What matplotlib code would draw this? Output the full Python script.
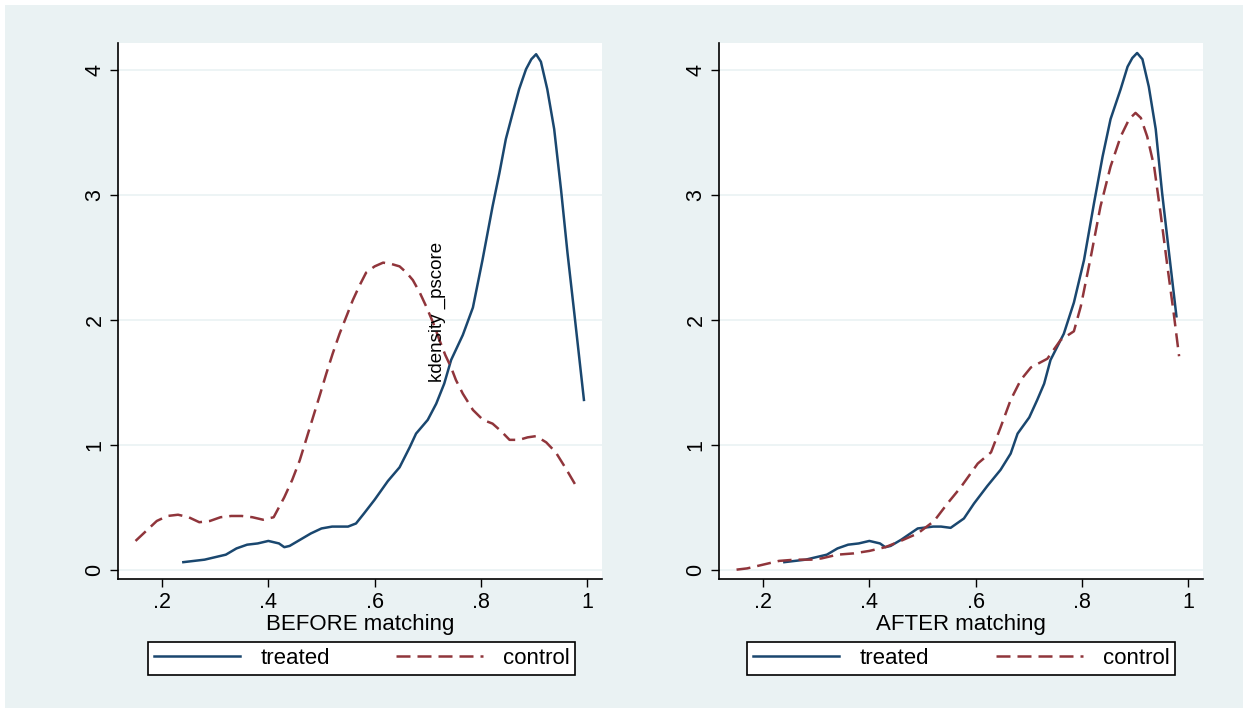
import matplotlib.pyplot as plt
from matplotlib.patches import Rectangle
from matplotlib.lines import Line2D

plt.rcParams["font.family"] = ["Liberation Sans", "DejaVu Sans"]

# ── Data ──────────────────────────────────────────────────────────────────────
before_treated_x = [0.24, 0.26, 0.28, 0.30, 0.32, 0.34, 0.36, 0.38, 0.40, 0.42, 0.43,
                    0.44, 0.46, 0.48, 0.50, 0.52, 0.55, 0.565, 0.58, 0.60, 0.625,
                    0.647, 0.666, 0.678, 0.70, 0.716, 0.731, 0.744, 0.766, 0.785,
                    0.803, 0.822, 0.835, 0.847, 0.86, 0.872, 0.885, 0.895, 0.904,
                    0.913, 0.925, 0.938, 0.951, 0.963, 0.976, 0.994]
before_treated_y = [0.06, 0.07, 0.08, 0.10, 0.12, 0.17, 0.20, 0.21, 0.23, 0.21, 0.18,
                    0.19, 0.24, 0.29, 0.33, 0.345, 0.345, 0.37, 0.45, 0.56, 0.71,
                    0.82, 0.98, 1.09, 1.20, 1.33, 1.49, 1.68, 1.88, 2.10,
                    2.48, 2.91, 3.18, 3.45, 3.66, 3.85, 4.01, 4.09, 4.13,
                    4.07, 3.85, 3.53, 3.04, 2.54, 2.05, 1.36]

before_control_x = [0.15, 0.17, 0.19, 0.21, 0.23, 0.25, 0.27, 0.29, 0.31, 0.33, 0.35,
                    0.37, 0.39, 0.41, 0.43, 0.445, 0.459, 0.471, 0.484, 0.497, 0.509,
                    0.521, 0.534, 0.547, 0.559, 0.572, 0.584, 0.60, 0.616, 0.631,
                    0.647, 0.66, 0.672, 0.685, 0.697, 0.71, 0.722, 0.733, 0.744,
                    0.753, 0.766, 0.785, 0.804, 0.822, 0.838, 0.854, 0.872, 0.888,
                    0.904, 0.923, 0.941, 0.96, 0.982]
before_control_y = [0.23, 0.31, 0.39, 0.43, 0.44, 0.42, 0.38, 0.39, 0.42, 0.43, 0.43,
                    0.42, 0.40, 0.42, 0.58, 0.72, 0.875, 1.04, 1.22, 1.40, 1.57,
                    1.73, 1.89, 2.03, 2.16, 2.28, 2.38, 2.43, 2.46, 2.45,
                    2.43, 2.38, 2.32, 2.22, 2.11, 1.98, 1.84, 1.72, 1.62,
                    1.52, 1.41, 1.28, 1.20, 1.17, 1.11, 1.04, 1.04, 1.06,
                    1.07, 1.02, 0.94, 0.81, 0.65]

after_treated_x = [0.24, 0.26, 0.28, 0.30, 0.32, 0.34, 0.36, 0.38, 0.40, 0.42, 0.43,
                   0.44, 0.46, 0.491, 0.52, 0.535, 0.553, 0.578, 0.597, 0.622, 0.647,
                   0.666, 0.679, 0.701, 0.716, 0.729, 0.741, 0.766, 0.785, 0.804,
                   0.823, 0.839, 0.854, 0.873, 0.886, 0.895, 0.904, 0.914, 0.926,
                   0.939, 0.951, 0.964, 0.978]
after_treated_y = [0.06, 0.07, 0.08, 0.10, 0.12, 0.17, 0.20, 0.21, 0.23, 0.21, 0.18,
                   0.19, 0.24, 0.33, 0.345, 0.345, 0.335, 0.41, 0.53, 0.67, 0.80,
                   0.93, 1.09, 1.22, 1.36, 1.49, 1.68, 1.89, 2.14, 2.48,
                   2.94, 3.31, 3.61, 3.85, 4.03, 4.10, 4.14, 4.09, 3.87,
                   3.53, 3.02, 2.54, 2.03]

after_control_x = [0.15, 0.17, 0.20, 0.23, 0.26, 0.29, 0.31, 0.34, 0.37, 0.40, 0.43,
                   0.459, 0.491, 0.522, 0.547, 0.572, 0.604, 0.629, 0.647, 0.666,
                   0.685, 0.704, 0.735, 0.76, 0.785, 0.798, 0.817, 0.835, 0.854,
                   0.873, 0.889, 0.901, 0.911, 0.923, 0.936, 0.948, 0.961, 0.973,
                   0.983]
after_control_y = [0.00, 0.01, 0.04, 0.07, 0.08, 0.08, 0.09, 0.12, 0.13, 0.15, 0.18,
                   0.23, 0.29, 0.39, 0.53, 0.66, 0.85, 0.94, 1.14, 1.36,
                   1.52, 1.62, 1.69, 1.84, 1.91, 2.11, 2.51, 2.91, 3.23,
                   3.47, 3.61, 3.66, 3.62, 3.47, 3.23, 2.86, 2.43, 2.05,
                   1.71]

x_ticks = [0.2, 0.4, 0.6, 0.8, 1.0]
x_labels = [".2", ".4", ".6", ".8", "1"]
y_ticks = [0, 1, 2, 3, 4]

BLUE = "#1a476f"
RED = "#90353b"
BG = "#eaf2f3"
LW = 1.8
DASH = (5.6, 2.8)

W, H = 1248, 713
fig = plt.figure(figsize=(W / 100, H / 100), dpi=100)
fig.patch.set_facecolor("white")
fig.patches.append(Rectangle((5 / W, 5 / H), 1 - 10 / W, 1 - 10 / H,
                             transform=fig.transFigure, facecolor=BG,
                             edgecolor="none", zorder=-10))


def panel(left, treated, control, xlabel, legend_box):
    ax = fig.add_axes([left / W, 1 - 579 / H, 484 / W, 536 / H])
    ax.set_facecolor("white")
    ax.plot(*treated, color=BLUE, lw=LW, solid_joinstyle="round")
    ax.plot(*control, color=RED, lw=LW, dashes=DASH)
    ax.set_xlim(0.117, 1.028)
    ax.set_ylim(-0.075, 4.22)
    ax.set_xticks(x_ticks, x_labels)
    ax.set_yticks(y_ticks)
    for lab in ax.get_yticklabels():
        lab.set_rotation(90)
        lab.set_va("center")
    ax.tick_params(direction="out", length=6, width=1, colors="black",
                   labelsize=15.5, pad=3)
    ax.grid(axis="y", color=BG, lw=1.2)
    ax.grid(axis="x", visible=False)
    ax.set_axisbelow(True)
    ax.spines[["top", "right"]].set_visible(False)
    ax.spines[["left", "bottom"]].set_linewidth(1.2)
    ax.set_xlabel(xlabel, fontsize=16, labelpad=1)

    handles = [Line2D([], [], color=BLUE, lw=LW),
               Line2D([], [], color=RED, lw=LW, dashes=DASH)]
    x0, x1 = legend_box
    leg = ax.legend(handles, ["treated", "control"], ncol=2,
                    loc="center", mode="expand",
                    bbox_to_anchor=(x0 / W, 1 - 676 / H, (x1 - x0) / W, 35 / H),
                    bbox_transform=fig.transFigure, fontsize=16,
                    handlelength=3.9, handletextpad=0.9, columnspacing=2.0,
                    borderaxespad=0, borderpad=0.25, fancybox=False,
                    frameon=True, framealpha=1)
    leg.get_frame().set_edgecolor("black")
    leg.get_frame().set_linewidth(1.2)
    return ax


ax1 = panel(118, (before_treated_x, before_treated_y),
            (before_control_x, before_control_y), "BEFORE matching", (148, 575))
ax2 = panel(719, (after_treated_x, after_treated_y),
            (after_control_x, after_control_y), "AFTER matching", (747, 1175))

fig.text(437 / W, 1 - 312 / H, "kdensity _pscore", rotation=90,
         ha="center", va="center", fontsize=13.5)

fig.savefig("out.png", dpi=100, facecolor=fig.get_facecolor())
